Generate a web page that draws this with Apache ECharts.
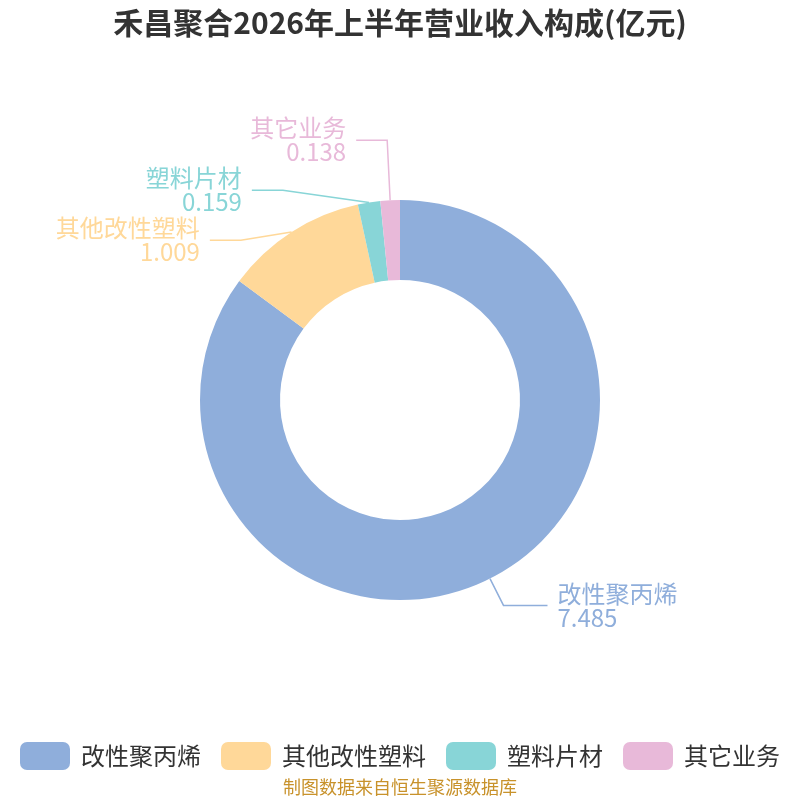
<!DOCTYPE html>
<html lang="zh-CN">
<head>
    <meta charset="UTF-8">
    <title>禾昌聚合2026年上半年营业收入构成</title>
    <script src="https://cdn.jsdelivr.net/npm/echarts@6.0.0/dist/echarts.min.js"></script>
    <style>
        html, body { margin: 0; padding: 0; background: #fff; }
        #main { width: 800px; height: 800px; }
    </style>
</head>
<body>
    <div id="main"></div>
    <script type="text/javascript">
        // 数据
        const categories = ['改性聚丙烯', '其他改性塑料', '塑料片材', '其它业务'];
        const values = [7.485, 1.009, 0.159, 0.138];
        const colors = ['#8FAEDB', '#FFD899', '#88D5D7', '#E8B9D9'];

        var myChart = echarts.init(document.getElementById('main'));

        // 左上角三个小扇区标签挤在一起，单独调一下引导线长度
        var lineStyleByName = {
            '改性聚丙烯': { length: 30, length2: 44 },
            '其他改性塑料': { length: 14 },
            '塑料片材': { length: 14 },
            '其它业务': { length: 60 }
        };
        var pieData = categories.map(function (name, i) {
            return {
                name: name,
                value: values[i],
                labelLine: lineStyleByName[name]
            };
        });

        var option = {
            backgroundColor: '#ffffff',
            color: colors,
            textStyle: { fontFamily: 'Noto Sans CJK SC' },
            title: {
                text: '禾昌聚合2026年上半年营业收入构成(亿元)',
                left: 'center',
                top: 3,
                textStyle: { fontSize: 30, fontWeight: 'bold', color: '#333' }
            },
            legend: {
                top: 737,
                left: 'center',
                itemWidth: 50,
                itemHeight: 28,
                itemGap: 20,
                icon: 'roundRect',
                textStyle: { fontSize: 24, color: '#333', padding: [0, 0, 0, 6] },
                data: categories
            },
            graphic: [{
                type: 'text',
                left: 'center',
                top: 778,
                style: {
                    text: '制图数据来自恒生聚源数据库',
                    fill: '#C8922B',
                    fontSize: 18,
                    fontFamily: 'Noto Sans CJK SC'
                }
            }],
            series: [{
                type: 'pie',
                center: ['50%', '50%'],
                radius: [120, 200],
                startAngle: 90,
                clockwise: true,
                avoidLabelOverlap: true,
                data: pieData,
                label: {
                    formatter: '{b}\n{c}',
                    fontSize: 24,
                    lineHeight: 24,
                    color: 'inherit',
                    distanceToLabelLine: 10
                },
                labelLine: {
                    length: 36,
                    length2: 31,
                    lineStyle: { width: 1.5 }
                }
            }]
        };

        myChart.setOption(option);
    </script>
</body>
</html>
